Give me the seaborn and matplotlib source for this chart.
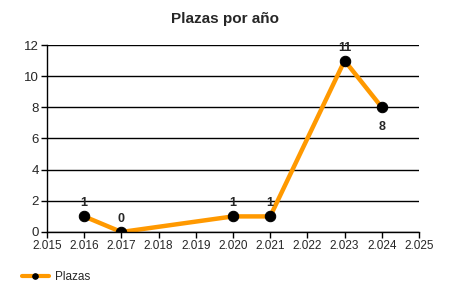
import matplotlib
matplotlib.use("Agg")
import matplotlib.pyplot as plt
import seaborn as sns
import pandas as pd
from matplotlib.ticker import FuncFormatter, MultipleLocator

years = [2016, 2017, 2020, 2021, 2023, 2024]
plazas = [1, 0, 1, 1, 11, 8]
series_name = "Plazas"
title = "Plazas por año"

sns.set_style("white")
plt.rcParams['font.family'] = ['Liberation Sans', 'DejaVu Sans']

df = pd.DataFrame({"year": years, "value": plazas})

fig = plt.figure(figsize=(4.5, 3), dpi=100)
ax = fig.add_axes([0.1044, 0.2267, 0.8267, 0.6233])

sns.lineplot(data=df, x="year", y="value", ax=ax, color="#FF9900", linewidth=3.2,
             marker="o", markersize=7.5, markerfacecolor="black", markeredgecolor="black",
             label=series_name, legend=False)

ax.set_xlim(2015, 2025)
ax.set_ylim(0, 12)
ax.xaxis.set_major_locator(MultipleLocator(1))
ax.yaxis.set_major_locator(MultipleLocator(2))
ax.xaxis.set_major_formatter(FuncFormatter(lambda v, p: f"{int(v)//1000}.{int(v)%1000:03d}"))
ax.yaxis.set_major_formatter(FuncFormatter(lambda v, p: f"{int(v)}"))
ax.yaxis.grid(True, color="black", linewidth=1)
ax.xaxis.grid(False)
for s in ["top", "right"]:
    ax.spines[s].set_visible(False)
for s in ["left", "bottom"]:
    ax.spines[s].set_color("black")
    ax.spines[s].set_linewidth(1)
ax.tick_params(axis="x", which="major", length=4, width=1, color="black", direction="out",
               labelsize=8.5, pad=2, bottom=True)
ax.tick_params(axis="y", which="major", length=4, width=1, color="black", direction="out",
               labelsize=9.5, pad=2, left=True)
ax.set_xlabel("")
ax.set_ylabel("")

for x, y in zip(years, plazas):
    if y == 8:
        ax.annotate(str(y), (x, y), xytext=(0, -10), textcoords="offset points",
                    ha="center", va="top", fontsize=9, fontweight="bold")
    else:
        ax.annotate(str(y), (x, y), xytext=(0, 5), textcoords="offset points",
                    ha="center", va="bottom", fontsize=9, fontweight="bold")

fig.text(0.5, 0.935, title, ha="center", va="center", fontsize=11, fontweight="bold")

handles, labels = ax.get_legend_handles_labels()
leg = fig.legend(handles, labels, loc="center left", bbox_to_anchor=(0.025, 0.077),
                 frameon=False, fontsize=8.5, handlelength=2.3, handletextpad=0.5)
for h in leg.get_lines():
    h.set_linewidth(3)
    h.set_markersize(4)

fig.savefig("out.png", dpi=100)
